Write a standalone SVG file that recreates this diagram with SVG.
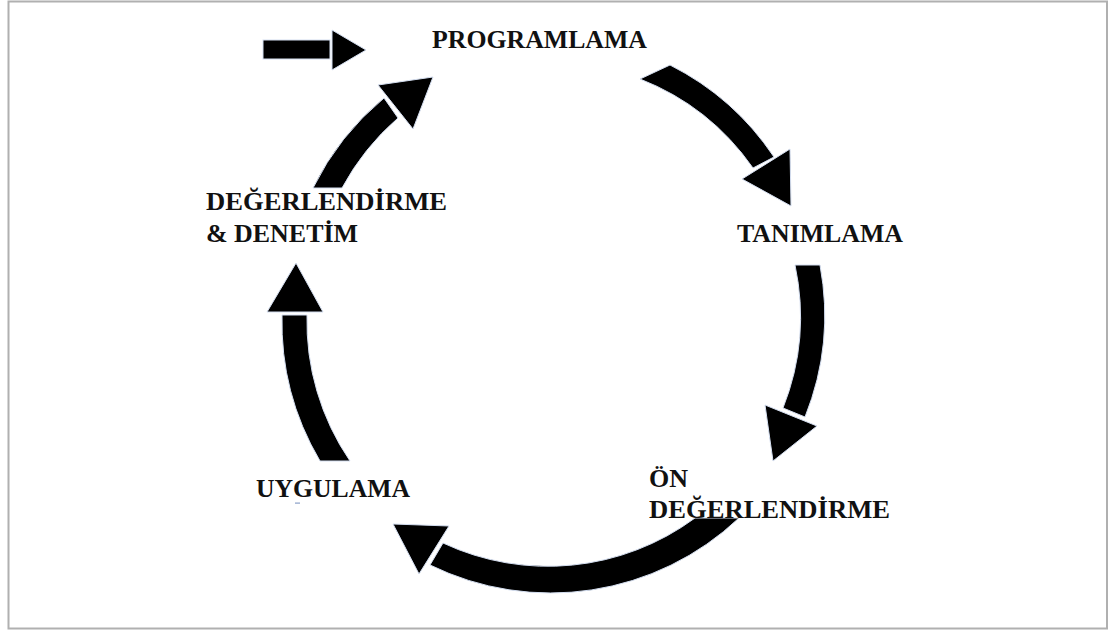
<svg xmlns="http://www.w3.org/2000/svg" width="1116" height="631" viewBox="0 0 1116 631">
<style>
.arr{fill:#000;stroke:#d4def0;stroke-width:1;stroke-linejoin:miter}
.lbl{font-family:"Liberation Serif","Times New Roman",serif;font-weight:bold;font-size:26px;fill:#111}
</style>
<rect x="0" y="0" width="1116" height="631" fill="#fff"/>
<rect x="8.5" y="1.5" width="1098.5" height="627" fill="#fff" stroke="#b0b0b0" stroke-width="2"/>
<g id="connectors">
  <g id="start-arrow">
    <rect class="arr" x="263" y="40" width="67" height="19"/>
    <polygon class="arr" points="332,30 332,70 366,50"/>
  </g>
  <g id="arrow-prog-tan">
    <path class="arr" d="M640,79 L670,65 A274,274 0 0 1 774,157 L753,168 A248,248 0 0 0 640,79 Z"/>
    <polygon class="arr" points="742,179 790,149 791,206"/>
  </g>
  <g id="arrow-tan-on">
    <path class="arr" d="M795,265 L820,265 A274,274 0 0 1 805,417 L783,408 A248,248 0 0 0 795,265 Z"/>
    <polygon class="arr" points="765,405 817,426 773,461"/>
  </g>
  <g id="arrow-on-uyg">
    <path class="arr" d="M695,518 L739,518 A274,274 0 0 1 430,565 L443,543 A248,248 0 0 0 695,518 Z"/>
    <polygon class="arr" points="393,524 449,526 419,574"/>
  </g>
  <g id="arrow-uyg-deg">
    <path class="arr" d="M320,461 A274,274 0 0 1 282,315 L307,315 A248,248 0 0 0 350,461 Z"/>
    <polygon class="arr" points="267,312 323,312 296,263"/>
  </g>
  <g id="arrow-deg-prog">
    <path class="arr" d="M313,188 A274,274 0 0 1 384,98 L398,118 A248,248 0 0 0 342,188 Z"/>
    <polygon class="arr" points="378,85 433,77 413,129"/>
  </g>
</g>
<g id="node-programlama">
  <text class="lbl" x="432" y="48" textLength="215" lengthAdjust="spacingAndGlyphs">PROGRAMLAMA</text>
</g>
<g id="node-tanimlama">
  <text class="lbl" x="737" y="242" textLength="166" lengthAdjust="spacingAndGlyphs">TANIMLAMA</text>
</g>
<g id="node-on-degerlendirme">
  <text class="lbl" x="649" y="487" textLength="39" lengthAdjust="spacingAndGlyphs">ÖN</text>
  <text class="lbl" x="649" y="518" textLength="241" lengthAdjust="spacingAndGlyphs">DEĞERLENDİRME</text>
</g>
<g id="node-uygulama">
  <text class="lbl" x="256" y="497" textLength="154" lengthAdjust="spacingAndGlyphs">UYGULAMA</text>
  <rect x="295" y="502.5" width="5" height="1.2" fill="#8aa0c8"/>
</g>
<g id="node-degerlendirme-denetim">
  <text class="lbl" x="206" y="210" textLength="241" lengthAdjust="spacingAndGlyphs">DEĞERLENDİRME</text>
  <text class="lbl" x="206" y="242" textLength="152" lengthAdjust="spacingAndGlyphs">&amp; DENETİM</text>
</g>
</svg>
